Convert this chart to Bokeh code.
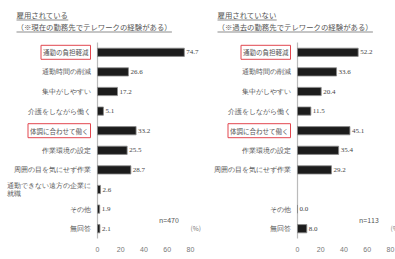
from bokeh.plotting import figure
from bokeh.layouts import row
from bokeh.models import (Range1d, ColumnDataSource, LabelSet, Label, FixedTicker, BoxAnnotation)
from bokeh.embed import file_html
from bokeh.resources import INLINE

categories = ["通勤の負担軽減", "通勤時間の削減", "集中がしやすい", "介護をしながら働く",
              "体調に合わせて働く", "作業環境の設定", "周囲の目を気にせず作業",
              "通勤できない遠方の企業に\n就職", "その他", "無回答"]
values_employed = [74.7, 26.6, 17.2, 5.1, 33.2, 25.5, 28.7, 2.6, 1.9, 2.1]
values_not_employed = [52.2, 33.6, 20.4, 11.5, 45.1, 35.4, 29.2, None, 0.0, 8.0]
boxed = ["通勤の負担軽減", "体調に合わせて働く"]
x_ticks = [0, 20, 40, 60, 80]
titles_employed = ["雇用されている", "（※現在の勤務先でテレワークの経験がある）"]
titles_not_employed = ["雇用されていない", "（※過去の勤務先でテレワークの経験がある）"]
n_employed = "n=470"
n_not_employed = "n=113"

FONT = "Noto Sans CJK JP"
N = len(categories)
PX_PER_UNIT = 93 / 80.0   # pixels per percent
ROW_PX = 19.6             # pixels per category row
TOP_PX = 42               # frame top to first row boundary
TITLE_FS = 7.4


def panel(values, titles, n_text, width, axis_px, title_px, hide_empty_label):
    height = 259
    bottom_border = 20
    frame_h = height - bottom_border
    x0 = -axis_px / PX_PER_UNIT
    x1 = (width - axis_px) / PX_PER_UNIT
    y_top = -0.5 - TOP_PX / ROW_PX
    y_bot = y_top + frame_h / ROW_PX
    p = figure(width=width, height=height, output_backend="svg", toolbar_location=None,
               x_range=Range1d(x0, x1), y_range=Range1d(y_bot, y_top),
               min_border_left=0, min_border_right=0, min_border_top=0,
               min_border_bottom=bottom_border)
    p.outline_line_color = None
    p.xgrid.visible = False
    p.ygrid.visible = False
    p.yaxis.visible = False

    ax = p.xaxis[0]
    ax.ticker = FixedTicker(ticks=x_ticks)
    ax.axis_line_color = None
    ax.major_tick_line_color = None
    ax.minor_tick_line_color = None
    ax.major_label_text_font_size = "7px"
    ax.major_label_text_color = "#777777"
    ax.major_label_standoff = 1

    idx = list(range(N))
    # vertical baseline at 0 spanning all category rows
    p.segment(x0=[0], y0=[-0.5], x1=[0], y1=[N - 0.5], line_color="#bbbbbb", line_width=1.2)

    ys = [i for i, v in zip(idx, values) if v is not None]
    vals = [v for v in values if v is not None]
    src = ColumnDataSource(dict(y=ys, val=vals, txt=[f"{v:.1f}" for v in vals]))
    p.hbar(y="y", right="val", left=0, height=0.42, source=src,
           fill_color="#1c1c1c", line_color="#8a8a8a", line_width=0.8)
    p.add_layout(LabelSet(x="val", y="y", text="txt", source=src, x_offset=2,
                          text_font_size="7px", text_color="#444444",
                          text_baseline="middle", text_font=FONT))

    lab_txt = []
    for c, v in zip(categories, values):
        if c in boxed or (hide_empty_label and v is None):
            lab_txt.append("")
        else:
            lab_txt.append(c)
    lsrc = ColumnDataSource(dict(y=idx, txt=lab_txt))
    p.add_layout(LabelSet(x=0, y="y", text="txt", source=lsrc, x_offset=-7,
                          text_align="right", text_baseline="middle",
                          text_font_size="6.5px", text_color="#555555", text_font=FONT))
    for c in boxed:
        p.add_layout(Label(x=0, y=categories.index(c), text=c, x_offset=-7,
                           text_align="right", text_baseline="middle",
                           text_font_size="6.5px", text_color="#555555", text_font=FONT,
                           border_line_color="#e2474f", border_line_width=1,
                           padding=2))

    p.add_layout(Label(x=70, y=8.55, text=n_text, text_align="right",
                       text_baseline="middle", text_font_size="7px",
                       text_color="#555555", text_font=FONT))
    p.add_layout(Label(x=80, y=8.95, text="(%)", text_align="left", x_offset=0,
                       text_baseline="middle", text_font_size="6.5px",
                       text_color="#777777", text_font=FONT))

    for i, (t, yc) in enumerate(zip(titles, [14, 26])):
        p.add_layout(Label(x=title_px, y=frame_h - yc, x_units="screen", y_units="screen",
                           text=t, text_baseline="middle", text_font_size=f"{TITLE_FS}px",
                           text_color="#555555", text_font=FONT))
        ul = frame_h - yc - 5
        p.add_layout(BoxAnnotation(left=title_px, right=title_px + len(t) * TITLE_FS,
                                   bottom=ul - 0.9, top=ul, left_units="screen",
                                   right_units="screen", top_units="screen",
                                   bottom_units="screen", fill_color="#8c8c8c",
                                   fill_alpha=1, line_color=None))
    return p


p1 = panel(values_employed, titles_employed, n_employed, 203, 97, 16, False)
p2 = panel(values_not_employed, titles_not_employed, n_not_employed, 192, 94, 14, True)
layout = row(p1, p2)

open("out.html", "w").write(file_html(layout, INLINE))
